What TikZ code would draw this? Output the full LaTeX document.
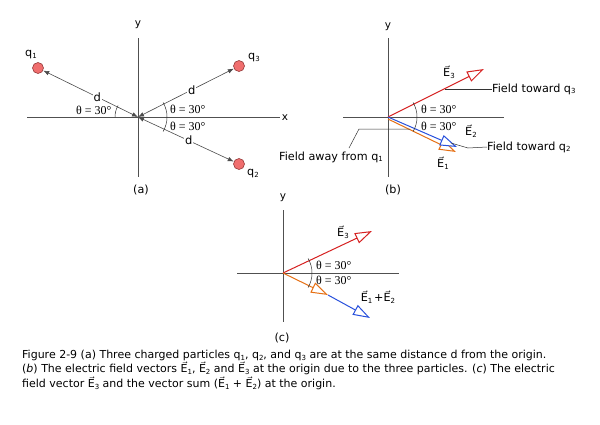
\documentclass[tikz,border=0pt]{standalone}
\usepackage{fontspec}
\setmainfont{DejaVu Sans}
\newfontfamily\thfont{Liberation Serif}
\usetikzlibrary{arrows.meta}
\newcommand{\sbs}[1]{\raisebox{-0.3ex}{\fontsize{7}{7}\selectfont #1}}
\newcommand{\vE}[1]{\ensuremath{\vec{\mbox{E}}}\sbs{#1}}
\definecolor{ered}{RGB}{214,32,32}
\definecolor{eblue}{RGB}{40,80,220}
\definecolor{eorange}{RGB}{230,112,20}
\definecolor{qfill}{RGB}{240,110,110}
\definecolor{qedge}{RGB}{150,60,60}
\definecolor{axisgray}{RGB}{80,80,80}
\tikzset{
  axis/.style={draw=axisgray, line width=0.8pt},
  charge/.style={circle, draw=qedge, fill=qfill, minimum size=11pt, inner sep=0pt, line width=0.6pt},
  darr/.style={draw=black!70, line width=0.6pt, {Latex[length=6pt,width=4.5pt]}-{Latex[length=6pt,width=4.5pt]}},
  dlab/.style={fill=white, inner sep=1pt, font=\fontsize{11.5}{11}\selectfont},
  lbl/.style={font=\fontsize{11.2}{12}\selectfont, inner sep=0pt},
  axl/.style={font=\fontsize{10.5}{12}\selectfont, inner sep=0pt},
  th/.style={font=\thfont\fontsize{12}{12}\selectfont, inner sep=0pt, anchor=west},
  vecarr/.style={line width=1pt, -{Triangle[length=17pt,width=11pt,fill=white]}},
  lead/.style={draw=black!80, line width=0.5pt},
  arcl/.style={draw=black!80, line width=0.5pt}
}
\begin{document}
\begin{tikzpicture}[x=1pt,y=-1pt]
\path[use as bounding box, fill=white] (0,0) rectangle (600,424);
% ---------- panel (a)
\coordinate (Oa) at (138,117);
\coordinate (axl) at (27,117); \coordinate (axr) at (280,117);
\coordinate (ayt) at (138,38); \coordinate (ayb) at (138,177);
\draw[axis] (axl) -- (axr);
\draw[axis] (ayt) -- (ayb);
\node[axl] (xa) at (285,118) {x};
\node[axl] (ya) at (138,25) {y};
\node[charge] (q1) at (38,68) {};
\node[charge] (q3) at (239,66) {};
\node[charge] (q2) at (239,164) {};
\node[lbl] (lq1) at (31,55) {q\sbs{1}};
\node[lbl] (lq3) at (254,58) {q\sbs{3}};
\node[lbl] (lq2) at (253,174) {q\sbs{2}};
\draw[darr] (q1) -- (Oa) node[dlab,pos=0.57] (d1) {d};
\draw[darr] (q3) -- (Oa) node[dlab,pos=0.44] (d3) {d};
\draw[darr] (q2) -- (Oa) node[dlab,pos=0.47] (d2) {d};
\draw[arcl] ([xshift=-23pt]Oa) arc[start angle=180,end angle=150,radius=23pt];
\draw[arcl] ([xshift=29pt]Oa) arc[start angle=0,end angle=30,radius=29pt];
\draw[arcl] ([xshift=29pt]Oa) arc[start angle=0,end angle=-30,radius=29pt];
\node[th] (tha1) at (76,110) {θ = 30°};
\node[th] (tha2) at (170,109) {θ = 30°};
\node[th] (tha3) at (170,126) {θ = 30°};
\node[lbl] (pa) at (141,190) {(a)};
% ---------- panel (b)
\coordinate (Ob) at (388,117);
\coordinate (bxl) at (343,117); \coordinate (bxr) at (504,117);
\coordinate (byt) at (388,38); \coordinate (byb) at (388,177);
\draw[axis] (bxl) -- (bxr);
\draw[axis] (byt) -- (byb);
\node[axl] (yb) at (388,27) {y};
\coordinate (E3b) at (484,69);
\coordinate (Ob1) at (388,119);
\coordinate (E1b) at (456,152);
\coordinate (E2b) at (457,147);
\draw[vecarr, draw=ered] (Ob) -- (E3b);
\draw[vecarr, draw=eorange] (Ob1) -- (E1b);
\draw[vecarr, draw=eblue] (Ob) -- (E2b);
\draw[arcl] ([xshift=29pt]Ob) arc[start angle=0,end angle=30,radius=29pt];
\draw[arcl] ([xshift=29pt]Ob) arc[start angle=0,end angle=-30,radius=29pt];
\node[th] (thb1) at (421,109) {θ = 30°};
\node[th] (thb2) at (421,126) {θ = 30°};
\node[lbl] (lE3b) at (449,72) {\vE{3}};
\node[lbl] (lE2b) at (471,131) {\vE{2}};
\node[lbl] (lE1b) at (443,163) {\vE{1}};
\node[lbl,anchor=west] (ft3) at (492,89) {Field toward q\sbs{3}};
\coordinate (l3s) at (445,89);
\draw[lead] (l3s) -- (ft3.west);
\node[lbl,anchor=west] (ft2) at (487,147) {Field toward q\sbs{2}};
\coordinate (l2s) at (451,143);
\coordinate (l2m) at (468,148);
\draw[lead] (l2s) -- (l2m) -- (ft2.west);
\node[lbl] (fa1) at (331,157) {Field away from q\sbs{1}};
\coordinate (l1a) at (349,148);
\coordinate (l1b) at (359,129);
\coordinate (l1c) at (410,129);
\draw[lead] (l1a) -- (l1b) -- (l1c);
\node[lbl] (pb) at (393,190) {(b)};
% ---------- panel (c)
\coordinate (Oc) at (283,273);
\coordinate (cxl) at (237,273); \coordinate (cxr) at (399,273);
\coordinate (cyt) at (283,210); \coordinate (cyb) at (283,322);
\draw[axis] (cxl) -- (cxr);
\draw[axis] (cyt) -- (cyb);
\node[axl] (yc) at (283,198) {y};
\coordinate (E3c) at (372,231);
\coordinate (E1c) at (328,295);
\coordinate (E2c) at (370,318);
\draw[vecarr, draw=ered] (Oc) -- (E3c);
\draw[vecarr, draw=eblue] (E1c) -- (E2c);
\draw[vecarr, draw=eorange] (Oc) -- (E1c);
\draw[arcl] ([xshift=29pt]Oc) arc[start angle=0,end angle=30,radius=29pt];
\draw[arcl] ([xshift=29pt]Oc) arc[start angle=0,end angle=-30,radius=29pt];
\node[th] (thc1) at (316,265) {θ = 30°};
\node[th] (thc2) at (316,280) {θ = 30°};
\node[lbl] (lE3c) at (343,232) {\vE{3}};
\node[lbl] (lE12c) at (378,297) {\vE{1}\,+\vE{2}};
\node[lbl] (pc) at (282,338) {(c)};
% ---------- caption
\node[anchor=north west, align=left, inner sep=0pt, font=\fontsize{11}{13}\selectfont] (cap) at (22,350) {%
Figure 2-9 (a) Three charged particles q\sbs{1}, q\sbs{2}, and q\sbs{3} are at the same distance d from the origin.\\
(\textit{b}) The electric field vectors \vE{1}, \vE{2} and \vE{3} at the origin due to the three particles. (\textit{c}) The electric\\
field vector \vE{3} and the vector sum (\vE{1} + \vE{2}) at the origin.};
\end{tikzpicture}
\end{document}
